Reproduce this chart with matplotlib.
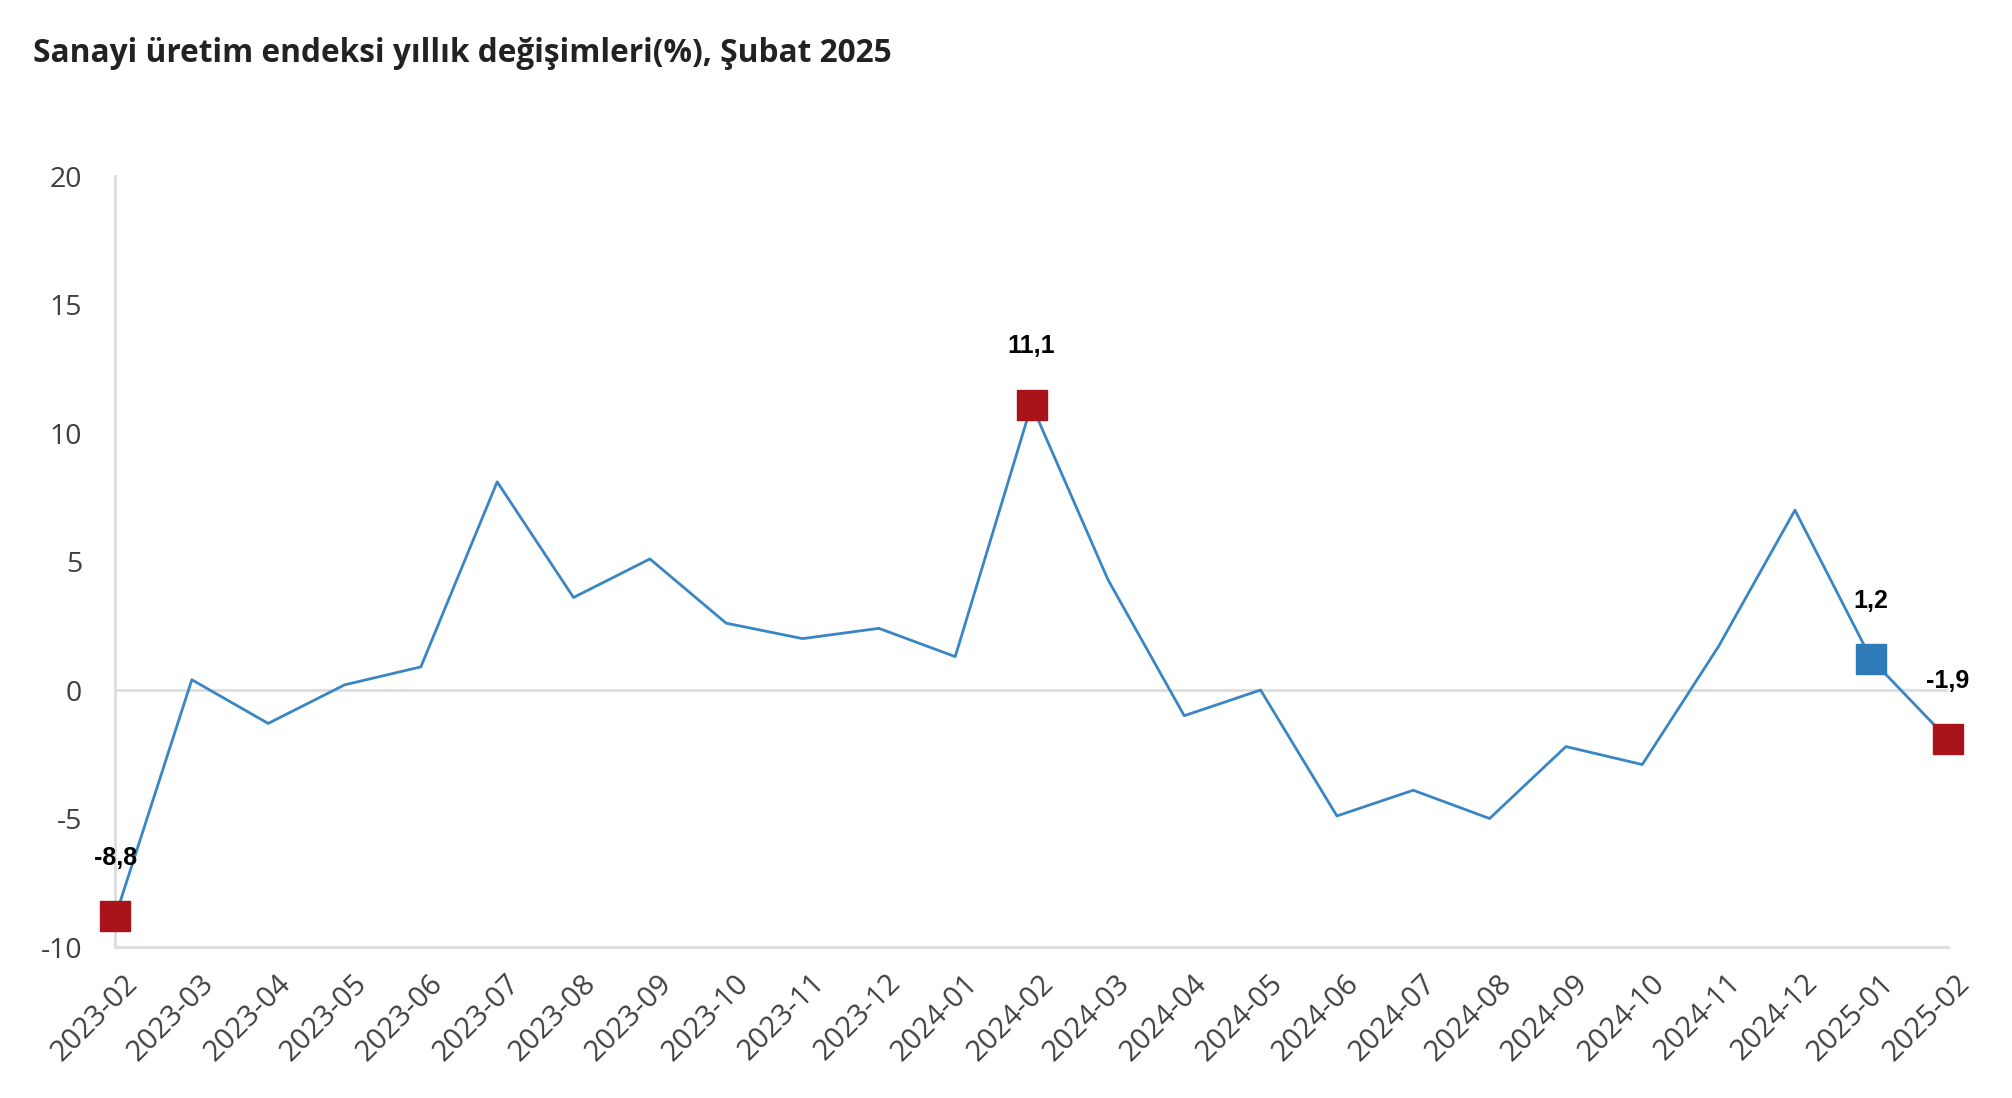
"""Sanayi üretim endeksi yıllık değişimleri, Şubat 2025."""

import matplotlib
matplotlib.use("Agg")
import matplotlib.pyplot as plt

months = [
    "2023-02", "2023-03", "2023-04", "2023-05", "2023-06", "2023-07",
    "2023-08", "2023-09", "2023-10", "2023-11", "2023-12", "2024-01",
    "2024-02", "2024-03", "2024-04", "2024-05", "2024-06", "2024-07",
    "2024-08", "2024-09", "2024-10", "2024-11", "2024-12", "2025-01",
    "2025-02",
]
change = [
    -8.8, 0.4, -1.3, 0.2, 0.9, 8.1,
    3.6, 5.1, 2.6, 2.0, 2.4, 1.3,
    11.1, 4.3, -1.0, 0.0, -4.9, -3.9,
    -5.0, -2.2, -2.9, 1.7, 7.0, 1.2,
    -1.9,
]
# highlighted points: (month, colour)
highlights = {"2023-02": "#A8141A", "2024-02": "#A8141A",
              "2025-01": "#2F7AB8", "2025-02": "#A8141A"}

LINE = "#3A86C4"
GRID = "#DDDDDD"
TICK = "#404040"

fig = plt.figure(figsize=(20.12, 10.98), dpi=100)
ax = fig.add_axes([0.0574, 0.1375, 0.968 - 0.0574, 0.8397 - 0.1375])

x = list(range(len(months)))
ax.plot(x, change, color=LINE, linewidth=2, zorder=3, clip_on=False)

for m, col in highlights.items():
    i = months.index(m)
    v = change[i]
    ax.plot(i, v, marker="s", markersize=22, color=col, markeredgecolor=col,
            zorder=4, clip_on=False)
    ax.annotate(f"{v:.1f}".replace(".", ","), (i, v), xytext=(0, 42),
                textcoords="offset points", ha="center", va="center",
                fontsize=18, fontweight="bold", family="Liberation Sans",
                color="black", zorder=5)

ax.axhline(0, color=GRID, linewidth=2, zorder=1)
ax.set_xlim(0, len(months) - 1)
ax.set_ylim(-10, 20)
ax.set_yticks([-10, -5, 0, 5, 10, 15, 20])
ax.set_yticklabels(["-10", "-5", "0", "5", "10", "15", "20"])
ax.set_xticks(x)
ax.set_xticklabels([])

# month labels, rotated, placed a little right of each tick
for i, m in zip(x, months):
    ax.annotate(m, (i, 0), xycoords=("data", "axes fraction"),
                xytext=(13, -23), textcoords="offset points",
                rotation=45, ha="right", va="center", rotation_mode="anchor",
                fontsize=21, family="Open Sans", color=TICK)

for s in ["top", "right"]:
    ax.spines[s].set_visible(False)
for s in ["left", "bottom"]:
    ax.spines[s].set_color(GRID)
    ax.spines[s].set_linewidth(2)

ax.tick_params(axis="y", length=0, pad=24, labelsize=20.5, labelcolor=TICK)
ax.tick_params(axis="x", length=0)
for lab in ax.get_yticklabels():
    lab.set_family("Open Sans")

fig.text(33 / 2012, 1 - 54 / 1098, "Sanayi üretim endeksi yıllık değişimleri(%), Şubat 2025",
         fontsize=22.8, fontweight="bold", family="Open Sans", color="#222222",
         ha="left", va="center")

fig.savefig("out.png", dpi=100, facecolor="white")
